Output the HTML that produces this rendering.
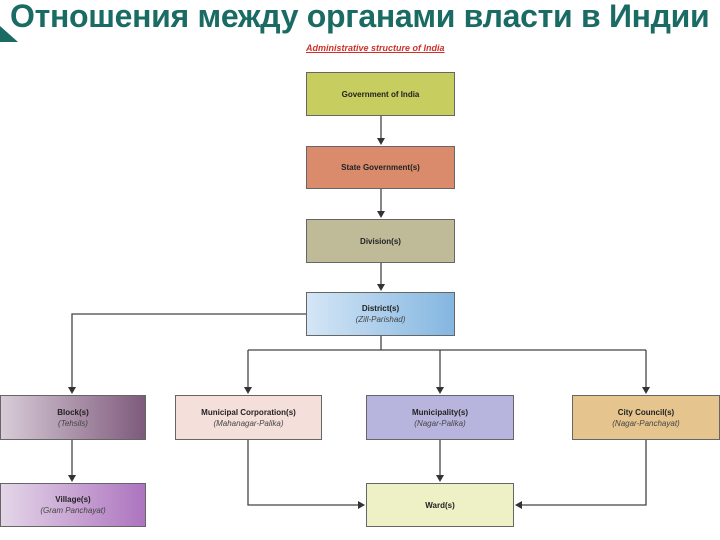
<!DOCTYPE html>
<html><head><meta charset="utf-8"><style>
body{margin:0;width:720px;height:540px;background:#fff;position:relative;overflow:hidden;font-family:"Liberation Sans",sans-serif}
.t{position:absolute;left:10px;top:-2px;font-size:32px;font-weight:bold;color:#1a6b63;white-space:nowrap;letter-spacing:-0.3px}
.b{position:absolute;box-sizing:border-box;border:1.5px solid #666;text-align:center;font-size:8px;font-weight:bold;color:#222;display:flex;flex-direction:column;justify-content:center;line-height:11px}
.b i{font-weight:normal;color:#444}
</style></head><body>
<svg style="position:absolute;left:0;top:0" width="720" height="540">
<polygon points="0,26 0,42 18,42" fill="#1a6b63"/>
<g stroke="#444" stroke-width="1.3" fill="none">
<line x1="381" y1="116" x2="381" y2="143"/>
<line x1="381" y1="189" x2="381" y2="216"/>
<line x1="381" y1="263" x2="381" y2="289"/>
<polyline points="306,314 72,314 72,392"/>
<polyline points="381,336 381,350"/>
<line x1="248" y1="350" x2="646" y2="350"/>
<line x1="248" y1="350" x2="248" y2="392"/>
<line x1="440" y1="350" x2="440" y2="392"/>
<line x1="646" y1="350" x2="646" y2="392"/>
<line x1="72" y1="440" x2="72" y2="480"/>
<line x1="440" y1="440" x2="440" y2="480"/>
<polyline points="248,440 248,505 363,505"/>
<polyline points="646,440 646,505 517,505"/>
</g>
<g fill="#333">
<polygon points="377,138 385,138 381,145"/>
<polygon points="377,211 385,211 381,218"/>
<polygon points="377,284 385,284 381,291"/>
<polygon points="68,387 76,387 72,394"/>
<polygon points="244,387 252,387 248,394"/>
<polygon points="436,387 444,387 440,394"/>
<polygon points="642,387 650,387 646,394"/>
<polygon points="68,475 76,475 72,482"/>
<polygon points="436,475 444,475 440,482"/>
<polygon points="358,501 358,509 365,505"/>
<polygon points="522,501 522,509 515,505"/>
</g>
</svg>
<div class="t">Отношения между органами власти в Индии</div>
<div style="position:absolute;left:306px;top:43px;font-size:9px;font-weight:bold;font-style:italic;color:#d0302a;text-decoration:underline">Administrative structure of India</div>
<div class="b" style="left:306px;top:72px;width:149px;height:44px;background:#c7cd5e">Government of India</div>
<div class="b" style="left:306px;top:146px;width:149px;height:43px;background:#d98b6c">State Government(s)</div>
<div class="b" style="left:306px;top:219px;width:149px;height:44px;background:#bfbb98">Division(s)</div>
<div class="b" style="left:306px;top:292px;width:149px;height:44px;background:linear-gradient(90deg,#d4e6f6,#84b6e0)">District(s)<i>(Zill-Parishad)</i></div>
<div class="b" style="left:0;top:395px;width:146px;height:45px;background:linear-gradient(90deg,#d8ccd8,#7e5a7c)">Block(s)<i>(Tehsils)</i></div>
<div class="b" style="left:175px;top:395px;width:147px;height:45px;background:#f5dfdb">Municipal Corporation(s)<i>(Mahanagar-Palika)</i></div>
<div class="b" style="left:366px;top:395px;width:148px;height:45px;background:#b7b5dd">Municipality(s)<i>(Nagar-Palika)</i></div>
<div class="b" style="left:572px;top:395px;width:148px;height:45px;background:#e6c48e">City Council(s)<i>(Nagar-Panchayat)</i></div>
<div class="b" style="left:0;top:483px;width:146px;height:44px;background:linear-gradient(90deg,#e4d6e8,#ad74bf)">Village(s)<i>(Gram Panchayat)</i></div>
<div class="b" style="left:366px;top:483px;width:148px;height:44px;background:#eef0c6">Ward(s)</div>
</body></html>
